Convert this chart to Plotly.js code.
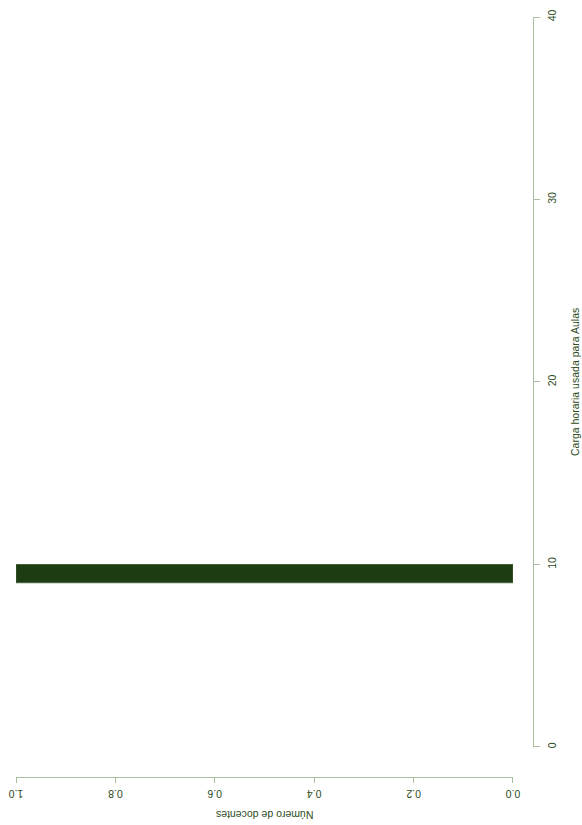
<!DOCTYPE html>
<html>
<head>
<meta charset="utf-8">
<script src="https://cdn.plot.ly/plotly-3.0.1.min.js"></script>
<style>html,body{margin:0;padding:0;background:#fff;}#chart{width:582px;height:825px;}</style>
</head>
<body>
<div id="chart"></div>
<script>
// Histogram of "Carga horaria usada para Aulas" (drawn rotated, as in the reference)
const binCenters = [9.5];
const binCounts = [1];
const hoursTicks = [0, 10, 20, 30, 40];
const countTicks = [0.0, 0.2, 0.4, 0.6, 0.8, 1.0];
const countTickText = ["0.0", "0.2", "0.4", "0.6", "0.8", "1.0"];
const hoursTitle = "Carga horaria usada para Aulas";
const countTitle = "Número de docentes";

const axisLine = "#a9c0a0";
const textCol = "#2c4c22";
const fnt = {family: "Liberation Sans, Arial, sans-serif", size: 10.5, color: textCol};

const trace = {
  type: "bar",
  orientation: "h",
  y: binCenters,
  x: binCounts,
  width: 1,
  marker: {color: "#1d3c12", line: {color: "#40603a", width: 1}},
  hoverinfo: "skip"
};

const layout = {
  width: 582, height: 825,
  margin: {l: 15.5, r: 49, t: 17, b: 47.5},
  paper_bgcolor: "#fff", plot_bgcolor: "#fff",
  showlegend: false,
  font: fnt,
  xaxis: {
    domain: [0, 0.9613],
    range: [1, 0],
    anchor: "free", position: 0,
    tickvals: countTicks, ticktext: countTickText,
    tickangle: 180,
    ticks: "outside", ticklen: 5, tickcolor: axisLine, tickwidth: 1,
    ticklabelstandoff: 5,
    showline: true, linecolor: axisLine, linewidth: 1,
    showgrid: false, zeroline: false,
    tickfont: fnt
  },
  yaxis: {
    domain: [0.0395, 1],
    range: [0, 40],
    side: "right",
    anchor: "free", position: 1,
    tickvals: hoursTicks,
    tickangle: -90,
    ticks: "outside", ticklen: 6, tickcolor: axisLine, tickwidth: 1,
    ticklabelstandoff: 3,
    showline: true, linecolor: axisLine, linewidth: 1,
    showgrid: false, zeroline: false,
    tickfont: fnt
  },
  annotations: [
    {text: hoursTitle, xref: "paper", yref: "paper", x: 1.0812, y: 0.5197,
     textangle: -90, showarrow: false, font: fnt, xanchor: "center", yanchor: "middle"},
    {text: countTitle, xref: "paper", yref: "paper", x: 0.482, y: -0.050,
     textangle: 180, showarrow: false, font: fnt, xanchor: "center", yanchor: "middle"}
  ]
};

Plotly.newPlot("chart", [trace], layout, {displayModeBar: false, staticPlot: true});
</script>
</body>
</html>
